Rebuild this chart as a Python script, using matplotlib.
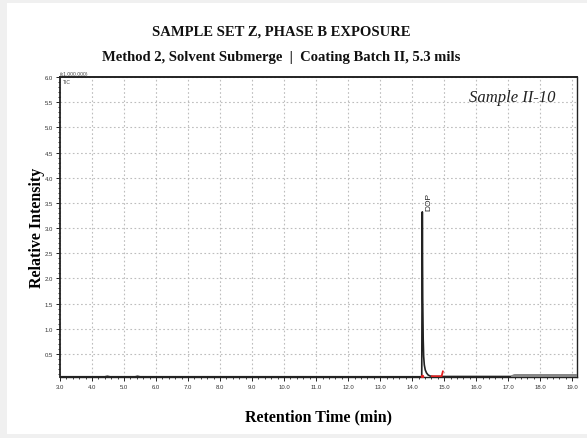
import matplotlib
matplotlib.use('Agg')
import matplotlib.pyplot as plt
from matplotlib.ticker import MultipleLocator, FixedLocator
from matplotlib.patches import Rectangle

# ---- data ----
time_min = [3.0, 4.40, 4.48, 4.56, 5.35, 5.42, 5.50, 14.300, 14.318, 14.330, 14.345,
            14.360, 14.380, 14.410, 14.450, 14.500, 14.560, 14.650, 17.150]
intensity = [0.045, 0.045, 0.055, 0.045, 0.045, 0.055, 0.045, 0.045, 3.32, 1.60, 0.80,
             0.45, 0.28, 0.18, 0.12, 0.08, 0.06, 0.05, 0.05]
tail_time = [17.15, 17.20, 19.15]
tail_int = [0.05, 0.065, 0.065]
integ_time = [14.62, 14.92, 14.96]
integ_int = [0.055, 0.055, 0.15]
peak_label = "DOP"
peak_label_pos = (14.53, 3.36)
x_ticks = [3.0, 4.0, 5.0, 6.0, 7.0, 8.0, 9.0, 10.0, 11.0, 12.0, 13.0, 14.0, 15.0,
           16.0, 17.0, 18.0, 19.0]
y_ticks = [0.5, 1.0, 1.5, 2.0, 2.5, 3.0, 3.5, 4.0, 4.5, 5.0, 5.5, 6.0]

title = "SAMPLE SET Z, PHASE B EXPOSURE"
subtitle = "Method 2, Solvent Submerge  |  Coating Batch II, 5.3 mils"
sample = "Sample II-10"

serif = ['Liberation Serif', 'DejaVu Serif']
sans = ['Liberation Sans', 'DejaVu Sans']

fig = plt.figure(figsize=(5.87, 4.39), dpi=100)
fig.patch.set_facecolor('#f0f0f0')
fig.patches.append(Rectangle((7 / 587, 4 / 439), 1 - 7 / 587, (435 - 4) / 439,
                             transform=fig.transFigure, facecolor='white',
                             edgecolor='none', zorder=-10))

ax = fig.add_axes([60 / 587, 1 - 378 / 439, (577 - 60) / 587, (378 - 78) / 439])
ax.set_zorder(1)
ax.set_facecolor('white')

ax.plot(time_min, intensity, color='#222222', lw=1.2, zorder=3)
ax.plot(tail_time, tail_int, color='#888888', lw=2.5, zorder=3)
ax.plot(integ_time, integ_int, color='#e02020', lw=1.3, zorder=4)
ax.plot([14.30], [0.05], marker='o', ms=1.5, color='#e02020', zorder=4)

ax.text(peak_label_pos[0], peak_label_pos[1], peak_label, rotation=90,
        ha='center', va='bottom', fontsize=6, color='#222222', family=sans)

ax.set_xlim(3.0, 19.15)
ax.set_ylim(0.04, 6.0)
ax.xaxis.set_major_locator(FixedLocator(x_ticks))
ax.yaxis.set_major_locator(FixedLocator(y_ticks))
ax.set_xticklabels([f"{v:.1f}" for v in x_ticks])
ax.set_yticklabels([f"{v:.1f}" for v in y_ticks])
ax.xaxis.set_minor_locator(MultipleLocator(0.2))
ax.yaxis.set_minor_locator(MultipleLocator(0.1))
ax.tick_params(which='major', direction='out', length=3, width=0.7, color='#222222',
               labelsize=4.3, labelcolor='#333333', pad=2)
ax.tick_params(which='minor', direction='out', length=1.6, width=0.6, color='#222222')
for lab in ax.get_xticklabels() + ax.get_yticklabels():
    lab.set_family(sans)

ax.grid(True, which='major', color='#bdbdbd', linestyle=(0, (1.5, 2.2)), lw=0.8)
ax.set_axisbelow(True)

for side, lw in (('left', 1.3), ('bottom', 1.0), ('top', 1.4), ('right', 1.0)):
    ax.spines[side].set_linewidth(lw)
    ax.spines[side].set_color('#222222')

ax.text(0.0, 1.004, "(x1,000,000)", transform=ax.transAxes, fontsize=3.6,
        color='#444444', ha='left', va='bottom', family=sans)
ax.text(0.006, 0.995, "TIC", transform=ax.transAxes, fontsize=3.6,
        color='#444444', ha='left', va='top', family=sans)

ax.text(0.874, 0.933, sample, transform=ax.transAxes, fontsize=12, style='italic',
        ha='center', va='center', family=serif, color='#222222')

ax.set_xlabel("Retention Time (min)", fontsize=11.5, fontweight='bold', family=serif,
              labelpad=14)
ax.set_ylabel("Relative Intensity", fontsize=11.5, fontweight='bold', family=serif,
              labelpad=0)

fig.text(281 / 587, 1 - 32 / 439, title, fontsize=10.5, fontweight='bold', family=serif,
         ha='center', va='center', color='#111111')
fig.text(281 / 587, 1 - 57 / 439, subtitle, fontsize=10.5, fontweight='bold', family=serif,
         ha='center', va='center', color='#111111')

fig.savefig('out.png', dpi=100, facecolor=fig.get_facecolor())
